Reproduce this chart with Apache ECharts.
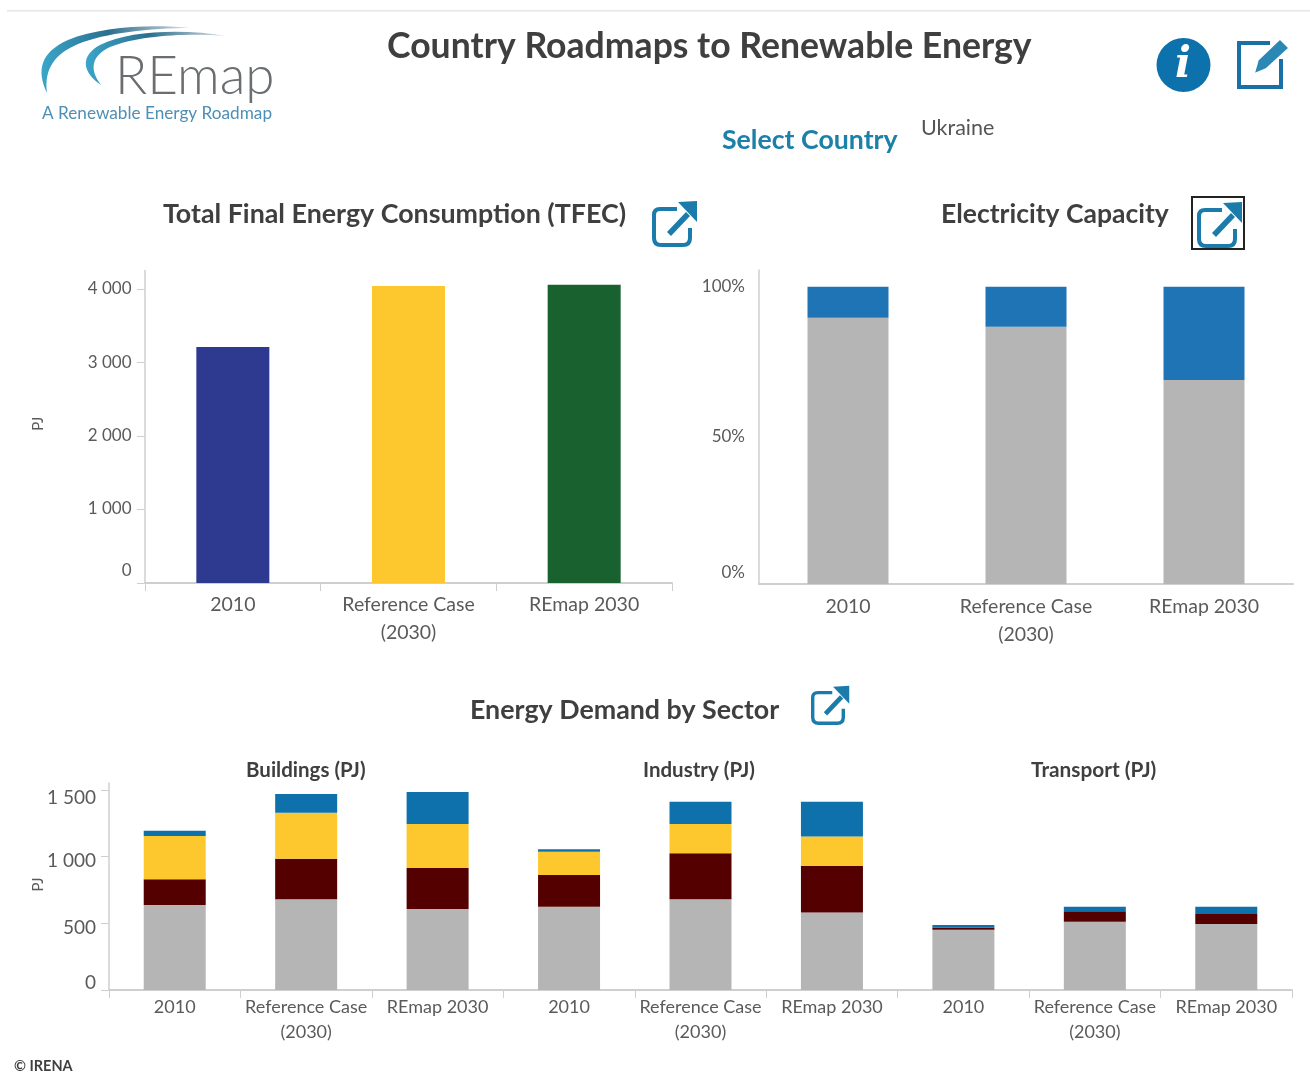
<!DOCTYPE html>
<html>
<head>
<meta charset="utf-8">
<title>Country Roadmaps to Renewable Energy</title>
<script src="https://cdn.jsdelivr.net/npm/echarts@6/dist/echarts.min.js"></script>
<style>html,body{margin:0;padding:0;background:#fff}#c{width:1310px;height:1090px}</style>
</head>
<body>
<div id="c"></div>
<script>
// ---- data ----
const scenarios = ['2010', 'Reference Case\n(2030)', 'REmap 2030'];
const tfecValues = [3211, 4041, 4058];
const capGrey = [89.5, 86.5, 68.6];
const capBlue = [10.5, 13.5, 31.4];
const sectorCats = [...scenarios, ...scenarios, ...scenarios];
const sectorGrey = [637, 680, 607, 624, 680, 582, 452, 512, 495];
const sectorMaroon = [193, 304, 310, 238, 345, 348, 16, 78, 75];
const sectorYellow = [325, 345, 327, 175, 220, 220, 0, 0, 0];
const sectorBlue = [39, 140, 240, 18, 167, 262, 19, 35, 55];
const tfecTicks = [0, 1000, 2000, 3000, 4000];
const capTicks = [0, 50, 100];
const sectorTicks = [0, 500, 1000, 1500];

// ---- styles ----
const FONT = 'Lato';
const AXIS = '#cfcfcf', LABEL = '#5a5a5a', HEAD = '#3f3f3f', ICON = '#1b7bab';
const tfecColors = ['#2e3a8f', '#fdc72e', '#19612f'];

const thousands = v => String(v).replace(/\B(?=(\d{3})+$)/g, ' ');
// Vertical nudge of a tick label (px, + is down), done through rich padding.
function nudged(shifts, fmt, size) {
  const rich = {};
  Object.keys(shifts).forEach(k => {
    const d = shifts[k];
    rich['t' + k] = { fontFamily: FONT, fontSize: size, color: LABEL,
      padding: d >= 0 ? [2 * d, 0, 0, 0] : [0, 0, -2 * d, 0] };
  });
  return { rich, formatter: v => `{t${v}|${fmt(v)}}` };
}
function yAxis(idx, max, ticks, shifts, fmt, opts) {
  const n = nudged(shifts, fmt, opts.size);
  return {
    type: 'value', gridIndex: idx, min: 0, max: max,
    name: opts.name || '', nameLocation: 'middle', nameGap: opts.nameGap, nameRotate: 90, nameMoveOverlap: false,
    nameTextStyle: { fontFamily: FONT, fontSize: 15, color: LABEL, padding: [0, 0, 0, opts.namePad || 0] },
    splitLine: { show: false },
    axisLine: { show: true, lineStyle: { color: AXIS, width: 1.5 } },
    axisTick: { show: opts.ticks !== false, length: 8, lineStyle: { color: AXIS }, customValues: ticks },
    axisLabel: { customValues: ticks, margin: opts.margin, formatter: n.formatter, rich: n.rich }
  };
}
function xAxis(idx, cats, opts) {
  return {
    type: 'category', gridIndex: idx, data: cats,
    axisLine: { onZero: true, lineStyle: { color: AXIS, width: 2 } },
    axisTick: { show: opts.ticks !== false, length: 8, lineStyle: { color: AXIS } },
    axisLabel: { interval: 0, margin: opts.margin, fontFamily: FONT, fontSize: opts.size, color: LABEL, lineHeight: opts.lh }
  };
}
const bar = (name, data, color, x, w) => ({
  type: 'bar', name, data, xAxisIndex: x, yAxisIndex: x, stack: 's' + x, barWidth: w,
  itemStyle: { color }, emphasis: { disabled: true }, animation: false
});

// ---- text & decoration ----
let shapeId = 0;
function pathEl(d, style) {
  const name = 'deco' + (shapeId++);
  echarts.graphic.registerShape(name, echarts.graphic.extendPath(d, {}));
  return { type: name, silent: true, style };
}
const txt = (s, x, y, size, color, weight) => ({
  type: 'text', x, y, silent: true,
  style: { text: s, fontFamily: FONT, fontSize: size, fontWeight: weight || 'bold', fill: color || HEAD, textAlign: 'left', textVerticalAlign: 'middle' }
});
const extIcon = (x, y, s) => ({
  type: 'group', x, y, scaleX: s, scaleY: s, silent: true,
  children: [
    pathEl('M25 9 L8 9 Q2 9 2 15 L2 38 Q2 45 9 45 L31 45 Q38 45 38 38 L38 28', { fill: 'none', stroke: ICON, lineWidth: 4 }),
    pathEl('M17 34 L36 14', { fill: 'none', stroke: ICON, lineWidth: 5.5 }),
    pathEl('M26 2 L45 1 L45 22 Z', { fill: ICON })
  ]
});
const swoosh = (d, c1, c2) => pathEl(d, {
  fill: new echarts.graphic.LinearGradient(0, 0, 1, 0, [
    { offset: 0, color: c1 }, { offset: 0.45, color: '#2b6f8f' }, { offset: 1, color: c2 }])
});
const graphics = [
  { type: 'rect', silent: true, shape: { x: 7, y: 10, width: 1303, height: 1.5 }, style: { fill: '#e6e6e6' } },
  // logo
  swoosh('M47 93 C36 70 41 52 68 40 C100 27 150 24 190 28 C150 28 105 33 78 44 C55 54 44 68 47 93 Z', '#39a6c9', '#d8dde0'),
  swoosh('M101 85 C82 72 80 56 100 45 C130 30 185 29 226 36 C190 33 140 35 110 47 C93 55 88 68 101 85 Z', '#39a6c9', '#d8dde0'),
  { type: 'text', x: 115, y: 77, silent: true, style: { text: 'REmap', fontFamily: 'Lato', fontSize: 53, fontWeight: 300, fill: '#6b6e70', textAlign: 'left', textVerticalAlign: 'middle' } },
  { type: 'text', x: 42, y: 113, silent: true, style: { text: 'A Renewable Energy Roadmap', fontFamily: 'Lato', fontSize: 17.2, fill: '#4d8fb5', textAlign: 'left', textVerticalAlign: 'middle' } },
  // headings
  txt('Country Roadmaps to Renewable Energy', 387, 47, 35.6),
  txt('Select Country', 722, 140, 26.7, '#1c80a8'),
  txt('Ukraine', 921, 128, 21.5, '#555555', 'normal'),
  txt('Total Final Energy Consumption (TFEC)', 163, 214, 26.8),
  txt('Electricity Capacity', 941, 214, 26.5),
  txt('Energy Demand by Sector', 470, 710, 26.8),
  txt('Buildings (PJ)', 246, 770, 20.5),
  txt('Industry (PJ)', 643, 770, 20.5),
  txt('Transport (PJ)', 1031, 770, 20.8),
  txt('\u00A9 IRENA', 14, 1066, 14.5),
  // icons
  { type: 'circle', silent: true, shape: { cx: 1183.5, cy: 65, r: 27 }, style: { fill: '#0d72ab' } },
  { type: 'text', x: 1183, y: 66, silent: true, style: { text: 'i', fontFamily: 'DejaVu Serif', fontStyle: 'italic', fontWeight: 'bold', fontSize: 42, fill: '#ffffff', textAlign: 'center', textVerticalAlign: 'middle' } },
  pathEl('M1270 43 L1239 43 L1239 87 L1281 87 L1281 59', { fill: 'none', stroke: '#1a6fa5', lineWidth: 4 }),
  pathEl('M1254 74 L1258 60 L1280 39 L1289 48 L1266 69 Z', { fill: '#2b88b5', stroke: '#ffffff', lineWidth: 1.5 }),
  extIcon(652, 200, 1),
  { type: 'rect', silent: true, shape: { x: 1192, y: 197, width: 52, height: 52 }, style: { fill: 'none', stroke: '#222222', lineWidth: 2 } },
  extIcon(1197, 201, 1),
  extIcon(811, 685, 0.85)
];

// ---- chart ----
const chart = echarts.init(document.getElementById('c'), null, { renderer: 'canvas' });
chart.setOption({
  animation: false,
  backgroundColor: '#ffffff',
  graphic: graphics,
  grid: [
    { left: 145, width: 527, top: 270.6, height: 312.4, containLabel: false },
    { left: 759, width: 534, top: 270, height: 314, containLabel: false },
    { left: 109, width: 1183, top: 783, height: 207, containLabel: false }
  ],
  xAxis: [
    xAxis(0, scenarios, { margin: 8, size: 19.5, lh: 28 }),
    xAxis(1, scenarios, { margin: 9, size: 19.5, lh: 28, ticks: false }),
    xAxis(2, sectorCats, { margin: 5, size: 18, lh: 25 })
  ],
  yAxis: [
    yAxis(0, 4250, tfecTicks, { 0: -12, 1000: -0.5, 2000: 0, 3000: 0, 4000: 0 }, thousands,
      { name: 'PJ', nameGap: 99, namePad: 6, margin: 13.5, size: 17 }),
    yAxis(1, 105.6, capTicks, { 0: -11, 50: 1, 100: 0 }, v => v + '%',
      { margin: 14, size: 17, ticks: false, nameGap: 0 }),
    yAxis(2, 1552, sectorTicks, { 0: -7, 500: 5, 1000: 4, 1500: 8 }, thousands,
      { name: 'PJ', nameGap: 63, namePad: 4, margin: 13, size: 19 })
  ],
  series: [
    { type: 'bar', name: 'TFEC', xAxisIndex: 0, yAxisIndex: 0, barWidth: 73, animation: false,
      data: tfecValues.map((v, i) => ({ value: v, itemStyle: { color: tfecColors[i] } })) },
    bar('Non-renewable', capGrey, '#b5b5b5', 1, 81),
    bar('Renewable', capBlue, '#1f74b5', 1, 81),
    bar('Non-renewable fuels', sectorGrey, '#b5b5b5', 2, 62),
    bar('Renewable electricity', sectorMaroon, '#540000', 2, 62),
    bar('Modern biomass', sectorYellow, '#fdc72e', 2, 62),
    bar('Other renewables', sectorBlue, '#0f71ab', 2, 62)
  ]
});
</script>
</body>
</html>
